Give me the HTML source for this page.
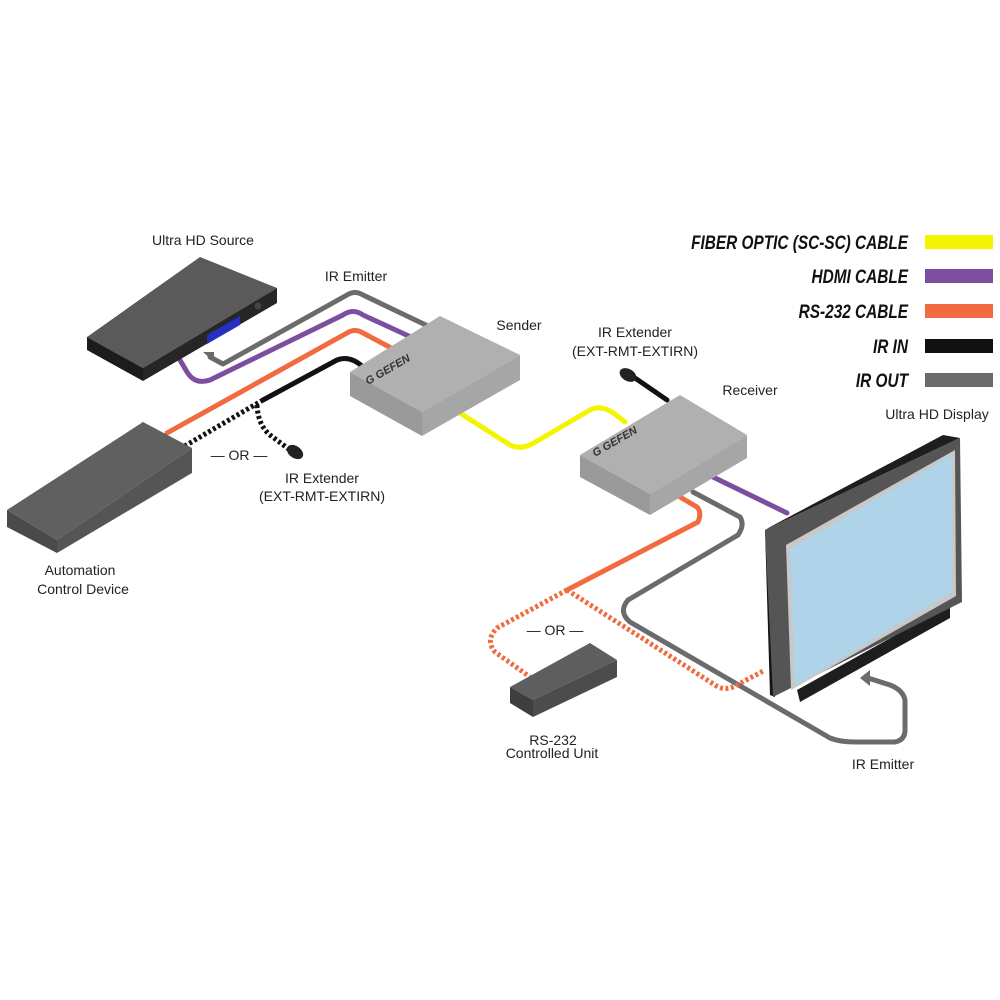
<!DOCTYPE html>
<html><head><meta charset="utf-8"><style>
html,body{margin:0;padding:0;background:#fff;}
svg{display:block;}
text{font-family:"Liberation Sans",sans-serif;fill:#222;}
.lg{font-weight:bold;font-style:italic;font-size:19px;fill:#111;}
</style></head><body>
<svg width="1000" height="1000" viewBox="0 0 1000 1000" xmlns="http://www.w3.org/2000/svg">
<g fill="none" stroke-linecap="round" stroke-linejoin="round">
<path d="M210,357 L223,364 L347,295 Q355,290 363,295 L430,327" stroke="#6b6b6b" stroke-width="5"/>
<path d="M180,360 L187,372 Q195,385 210,380 L343,315 Q353,308 363,315 L413,338" stroke="#7b4ea0" stroke-width="5"/>
<path d="M167,433 L347,333 Q355,328 363,333 L395,350" stroke="#f26a3f" stroke-width="5"/>
<path d="M263,400 L337,360 Q350,355 363,367" stroke="#111" stroke-width="5"/>
<path d="M460,413 L510,445 Q520,450 532,444 L590,410 Q600,405 612,412 L625,422" stroke="#f4f400" stroke-width="5"/>
<path d="M667,400 L635,378" stroke="#111" stroke-width="5"/>
<path d="M713,477 L787,513" stroke="#7b4ea0" stroke-width="5"/>
<path d="M680,497 L697,507 Q702,512 698,522 L567,590" stroke="#f26a3f" stroke-width="5"/>
<path d="M693,492 L740,517 Q745,525 738,535 L628,600 Q618,612 630,622 L830,738 Q840,742 855,742 L895,742 Q905,740 905,730 L905,700 Q903,690 890,685 L868,678" stroke="#6b6b6b" stroke-width="5"/>
</g>
<g fill="none" stroke-linecap="butt" stroke-linejoin="round">
<path d="M263,400 L183,447" stroke="#111" stroke-width="5" stroke-dasharray="3,2.5"/>
<path d="M257,405 Q258,425 270,435 L290,450" stroke="#111" stroke-width="5" stroke-dasharray="3,2.5"/>
<path d="M567,590 L497,628 Q485,640 495,652 L530,677" stroke="#f26a3f" stroke-width="5" stroke-dasharray="3,2.5"/>
<path d="M567,590 L715,685 Q725,692 737,685 L765,670" stroke="#f26a3f" stroke-width="5" stroke-dasharray="3,2.5"/>
</g>
<path d="M860,678 L870,670 L870,686 Z" fill="#6b6b6b"/>
<path d="M203,352 L214,352 L214,362 Z" fill="#6b6b6b"/>
<ellipse cx="295" cy="452" rx="9" ry="6" fill="#222" transform="rotate(35 295 452)"/>
<ellipse cx="628" cy="375" rx="9" ry="6" fill="#222" transform="rotate(30 628 375)"/>
<polygon points="87,337 200,257 277,288 143,368" fill="#5a5a5a"/>
<polygon points="87,337 143,368 143,381 87,350" fill="#1c1c1c"/>
<polygon points="143,368 277,288 277,303 143,381" fill="#262626"/>
<polygon points="207,335 240,316 240,325 207,344" fill="#2530c0"/>
<circle cx="258" cy="306" r="3.5" fill="#444"/>
<polygon points="7,510 143,422 192,448 57,540" fill="#606060"/>
<polygon points="7,510 57,540 57,553 7,527" fill="#4a4a4a"/>
<polygon points="57,540 192,448 192,473 57,553" fill="#555"/>
<polygon points="350,372 440,316 520,355 422,412" fill="#b0b0b0"/>
<polygon points="350,372 422,412 422,436 350,396" fill="#9a9a9a"/>
<polygon points="422,412 520,355 520,380 422,436" fill="#a6a6a6"/>
<text x="0" y="0" font-size="11" font-weight="bold" font-style="italic" transform="translate(368,385) rotate(-30)" style="fill:#333">G GEFEN</text>
<polygon points="580,455 680,395 747,435 650,494" fill="#b0b0b0"/>
<polygon points="580,455 650,494 650,515 580,477" fill="#9a9a9a"/>
<polygon points="650,494 747,435 747,458 650,515" fill="#a6a6a6"/>
<text x="0" y="0" font-size="11" font-weight="bold" font-style="italic" transform="translate(595,457) rotate(-30)" style="fill:#333">G GEFEN</text>
<polygon points="510,687 590,643 617,660 533,700" fill="#5e5e5e"/>
<polygon points="510,687 533,700 533,717 510,703" fill="#3e3e3e"/>
<polygon points="533,700 617,660 617,677 533,717" fill="#4c4c4c"/>
<polygon points="770,527 943,435 960,438 765,530" fill="#1e1e1e"/>
<polygon points="765,530 773,527 775,697 770,695" fill="#151515"/>
<polygon points="797,690 950,605 950,618 800,702" fill="#1e1e1e"/>
<polygon points="765,530 960,438 962,602 773,697" fill="#555"/>
<polygon points="786,545 955,450 956,596 791,690" fill="#c8c8c8"/>
<polygon points="790,549 952,455 952,592 795,686" fill="#afd3e8"/>
<g font-size="14" text-anchor="middle">
<text x="203" y="245">Ultra HD Source</text>
<text x="356" y="281">IR Emitter</text>
<text x="519" y="330">Sender</text>
<text x="635" y="337">IR Extender</text>
<text x="635" y="356">(EXT-RMT-EXTIRN)</text>
<text x="750" y="395">Receiver</text>
<text x="937" y="419">Ultra HD Display</text>
<text x="239" y="460">— OR —</text>
<text x="322" y="483">IR Extender</text>
<text x="322" y="501">(EXT-RMT-EXTIRN)</text>
<text x="80" y="575">Automation</text>
<text x="83" y="594">Control Device</text>
<text x="555" y="635">— OR —</text>
<text x="553" y="745">RS-232</text>
<text x="552" y="758">Controlled Unit</text>
<text x="883" y="769">IR Emitter</text>
</g>
<g text-anchor="end" transform="translate(908,0) scale(0.81,1)">
<text class="lg" x="0" y="249">FIBER OPTIC (SC-SC) CABLE</text>
<text class="lg" x="0" y="283">HDMI CABLE</text>
<text class="lg" x="0" y="318">RS-232 CABLE</text>
<text class="lg" x="0" y="353">IR IN</text>
<text class="lg" x="0" y="387">IR OUT</text>
</g>
<rect x="925" y="235" width="68" height="14" fill="#f4f400"/>
<rect x="925" y="269" width="68" height="14" fill="#7b4ea0"/>
<rect x="925" y="304" width="68" height="14" fill="#f26a3f"/>
<rect x="925" y="339" width="68" height="14" fill="#111"/>
<rect x="925" y="373" width="68" height="14" fill="#6b6b6b"/>
</svg>
</body></html>
